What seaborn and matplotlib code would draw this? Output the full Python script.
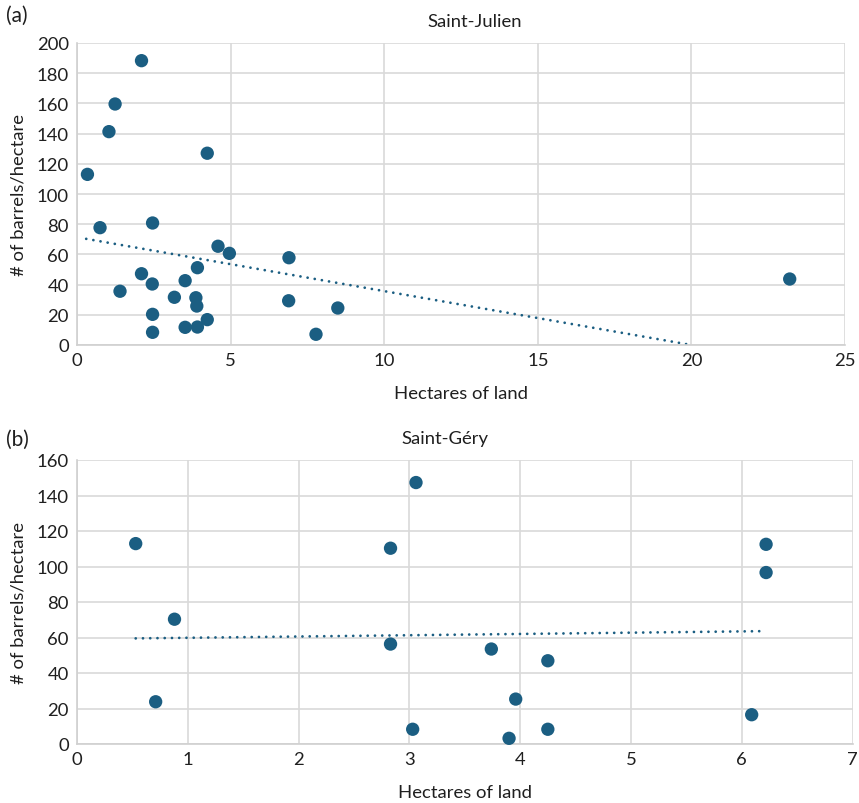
import numpy as np
import pandas as pd
import matplotlib
matplotlib.use("Agg")
import matplotlib.pyplot as plt
import seaborn as sns

# Saint-Julien data
sj_hectares = [0.34, 0.75, 1.04, 1.24, 1.40, 2.10, 2.10, 2.46, 2.45, 2.46, 2.46,
               3.17, 3.52, 3.52, 3.92, 3.87, 3.90, 3.92, 4.24, 4.24, 4.59, 4.96,
               6.90, 6.89, 7.78, 8.49, 23.2]
sj_barrels = [113, 77.7, 141.3, 159.6, 35.6, 188.3, 47.2, 80.8, 40.4, 20.3, 8.4,
              31.6, 42.6, 11.7, 51.2, 31.3, 25.8, 11.9, 127, 16.8, 65.4, 60.7,
              57.8, 29.3, 7.1, 24.5, 43.7]
# Linear trendline endpoints
sj_trend_x = [0.30, 20.0]
sj_trend_y = [70.3, 0.0]

# Saint-Géry data
sg_hectares = [0.53, 0.88, 0.71, 3.06, 2.83, 2.83, 3.74, 4.25, 3.96, 3.03, 3.90,
               4.25, 6.22, 6.22, 6.09]
sg_barrels = [112.9, 70.3, 23.8, 147.3, 110.3, 56.3, 53.5, 46.9, 25.3, 8.3, 3.2,
              8.3, 112.5, 96.6, 16.5]
sg_trend_x = [0.53, 6.22]
sg_trend_y = [59.5, 63.6]

titles = ["Saint-Julien", "Saint-Géry"]
panel_labels = ["(a)", "(b)"]
xlims = [(0, 25), (0, 7)]
xticks = [[0, 5, 10, 15, 20, 25], [0, 1, 2, 3, 4, 5, 6, 7]]
ylims = [(0, 200), (0, 160)]
yticks = [list(range(0, 201, 20)), list(range(0, 161, 20))]

sns.set_theme(style="white")
plt.rcParams['font.family'] = ['Lato', 'DejaVu Sans']

W, H = 859, 804
fig = plt.figure(figsize=(W / 100, H / 100), dpi=100)

def ax_rect(l, r, t, b):
    return [l / W, 1 - b / H, (r - l) / W, (b - t) / H]

axes = [fig.add_axes(ax_rect(77, 845, 44, 346)),
        fig.add_axes(ax_rect(77, 852.5, 461, 745))]
title_x = [0.518, 0.4745]

color = "#1b5e82"
text_color = "#1f1f1f"
grid_color = "#d9d9d9"
fs = 13.3

datasets = [(sj_hectares, sj_barrels, sj_trend_x, sj_trend_y),
            (sg_hectares, sg_barrels, sg_trend_x, sg_trend_y)]
for i, ax in enumerate(axes):
    xs, ys, tx, ty = datasets[i]
    df = pd.DataFrame({"x": xs, "y": ys})
    sns.scatterplot(data=df, x="x", y="y", ax=ax, color=color, s=92,
                    edgecolor="none", zorder=3, clip_on=False)
    tdf = pd.DataFrame({"x": tx, "y": ty})
    sns.lineplot(data=tdf, x="x", y="y", ax=ax, color=color, linewidth=2.0,
                 zorder=2, dashes=False, estimator=None, sort=False)
    ax.lines[-1].set_linestyle((0, (0.01, 2.6)))
    ax.lines[-1].set_dash_capstyle("round")
    ax.set_xlim(*xlims[i])
    ax.set_ylim(*ylims[i])
    ax.set_xticks(xticks[i])
    ax.set_yticks(yticks[i])
    ax.grid(True, color=grid_color, linewidth=1.2, zorder=0)
    ax.set_axisbelow(True)
    for s in ["top", "right"]:
        ax.spines[s].set_visible(False)
    for s in ["left", "bottom"]:
        ax.spines[s].set_color("#d0d0d0")
        ax.spines[s].set_linewidth(1.2)
    ax.tick_params(axis="x", length=0, labelsize=fs, colors=text_color, pad=5)
    ax.tick_params(axis="y", length=0, labelsize=fs, colors=text_color, pad=6)
    ax.set_xlabel("Hectares of land", fontsize=fs, color=text_color, labelpad=12)
    ax.set_ylabel("# of barrels/hectare", fontsize=fs, color=text_color, labelpad=7)
    ax.set_title(titles[i], fontsize=fs, color=text_color, pad=12, x=title_x[i])

fig.text(6 / W, 1 - 16 / H, panel_labels[0], fontsize=15, color=text_color, va="center")
fig.text(6 / W, 1 - 440 / H, panel_labels[1], fontsize=15, color=text_color, va="center")

fig.savefig("out.png", dpi=100)
